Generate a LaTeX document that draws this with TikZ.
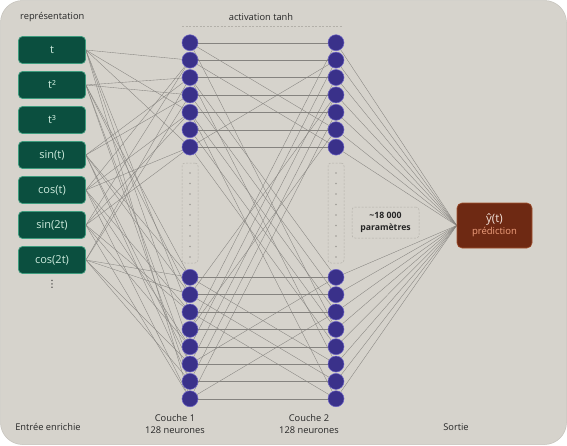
\documentclass[tikz,border=0pt]{standalone}
\usepackage{fontspec}
\setmainfont{Open Sans}
\newfontfamily\symfont{DejaVu Sans}
\usepackage{tikz}
\usetikzlibrary{positioning,calc,backgrounds}
\definecolor{panelbg}{HTML}{D6D3CC}
\definecolor{paneledge}{HTML}{C4C1BA}
\definecolor{infill}{HTML}{0B4F3F}
\definecolor{inedge}{HTML}{3E9C7E}
\definecolor{intext}{HTML}{CDEBDD}
\definecolor{neufill}{HTML}{3A318A}
\definecolor{neuedge}{HTML}{6C63C6}
\definecolor{wirec}{HTML}{85837F}
\definecolor{outfill}{HTML}{6E2913}
\definecolor{outedge}{HTML}{A2512E}
\definecolor{outtext}{HTML}{F2E2DA}
\definecolor{predc}{HTML}{F0A07E}
\definecolor{dashc}{HTML}{B3B0A9}
\definecolor{dotc}{HTML}{9C9A95}

\begin{document}
\begin{tikzpicture}[
  x=1pt, y=-1pt, font=\fontsize{9.3}{12}\selectfont, text=black!85,
  inbox/.style={draw=inedge, fill=infill, rounded corners=4pt, line width=0.7pt, minimum width=67pt, minimum height=27pt, inner sep=0pt, text=intext, font=\fontsize{11}{12}\selectfont},
  neuron/.style={circle, draw=neuedge, fill=neufill, line width=0.5pt, minimum size=16pt, inner sep=0pt},
  wire/.style={draw=wirec, line width=0.35pt},
  dotbox/.style={draw=dashc, dash pattern=on 2pt off 1.5pt, rounded corners=3pt, line width=0.5pt, minimum width=16pt, minimum height=100pt, inner sep=0pt},
  outbox/.style={draw=outedge, fill=outfill, rounded corners=5pt, line width=0.6pt, minimum width=75pt, minimum height=45pt, align=center, text=outtext, font=\fontsize{11.5}{13}\selectfont},
  parbox/.style={draw=dashc, dash pattern=on 2pt off 1.5pt, rounded corners=3pt, line width=0.5pt, minimum width=67pt, minimum height=31pt, inner sep=1pt, align=center, font=\bfseries\fontsize{8.7}{12}\selectfont}
]
  \useasboundingbox (0,0) rectangle (567,445);

  % entrees
  \foreach \txt [count=\k from 0] in {{t},{t²},{t³},{sin(t)},{cos(t)},{sin(2t)},{cos(2t)}}{
    \node[inbox] (in\k) at (52,50+35*\k) {\txt};
    \coordinate (src\k) at (in\k.east);
  }
  \node[inner sep=0pt, font=\symfont\fontsize{10}{10}\selectfont] (inmore) at (52,284) {⋮};
  \coordinate (src7) at (87,285);

  % couches cachees
  \foreach \i in {1,...,15}{
    \pgfmathsetmacro\ny{\i<8 ? 42.7+17.4*(\i-1) : 277.3+17.35*(\i-8)}
    \node[neuron] (a\i) at (190,\ny) {};
    \node[neuron] (b\i) at (336,\ny) {};
  }
  \node[dotbox] (gapa) at (190,213) {};
  \node[dotbox] (gapb) at (336,213) {};
  \foreach \d in {0,...,8}{
    \fill[dotc] (190,173+10.5*\d) circle (0.9);
    \fill[dotc] (336,173+10.5*\d) circle (0.9);
  }

  % sortie
  \node[outbox] (out) at (494.5,225.5) {ŷ(t)\\[-1pt]{\color{predc}\fontsize{9.5}{10}\selectfont prédiction}};
  \node[parbox] (par) at (385.5,222.5) {\textasciitilde 18 000\\paramètres};

  % titres
  \node[anchor=west, inner sep=0pt] (ttl) at (20,17) {représentation};
  \node (act) at (261,17) {activation tanh};
  \draw[dashc, dash pattern=on 2pt off 1.5pt, line width=0.5pt] (182,26) -- (343,26);
  \node (lbin) at (48,427) {Entrée enrichie};
  \node[align=center] (lba) at (175,424) {Couche 1\\128 neurones};
  \node[align=center] (lbb) at (309,424) {Couche 2\\128 neurones};
  \node (lbout) at (456,427) {Sortie};

  \begin{scope}[on background layer]
    \fill[white] (0,0) rectangle (567,445);
    \filldraw[fill=panelbg, draw=paneledge, line width=0.5pt, rounded corners=22pt] (0.5,0.5) rectangle (566.5,444.5);
    % liaisons
    \foreach \k in {0,...,7}
      \foreach \j in {1,...,15}{
        \pgfmathtruncatemacro\hit{mod(4*\k+3*\j+\k*\j,5)<2}
        \ifnum\hit=1 \draw[wire] (src\k) -- (a\j); \fi
      }
    \foreach \j in {1,...,15}{
      \pgfmathtruncatemacro\ja{mod(\j+4,15)+1}
      \pgfmathtruncatemacro\jb{mod(\j+9,15)+1}
      \draw[wire] (a\j) -- (b\j);
      \draw[wire] (a\j) -- (b\ja);
      \ifodd\j \draw[wire] (a\j) -- (b\jb); \fi
      \draw[wire] (b\j) -- (out.west);
    }
  \end{scope}
\end{tikzpicture}
\end{document}
